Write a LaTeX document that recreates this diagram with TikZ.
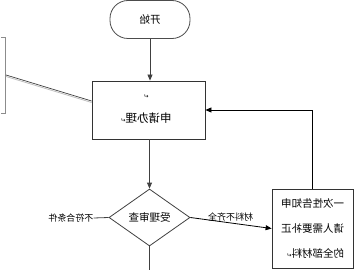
\documentclass[tikz,border=0pt]{standalone}
\usepackage{fontspec}
\usepackage{graphicx}
\setmainfont{Noto Sans CJK SC}
\newfontfamily\markfont{DejaVu Sans}
\usetikzlibrary{shapes.geometric,arrows.meta,positioning}
\newcommand{\pmark}{{\markfont\fontsize{6}{7}\selectfont ↵}}
\newcommand{\flip}[1]{\reflectbox{#1}}
\tikzset{
  flowline/.style={draw=black!75, line width=0.8pt},
  flowarrow/.style={flowline, -{Triangle[length=6pt,width=5pt]}},
  stepbox/.style={draw=black!80, line width=0.8pt, minimum width=113pt, minimum height=58pt, inner sep=0pt},
  termbox/.style={draw=black!70, line width=0.8pt, rounded corners=18pt, minimum width=80pt, minimum height=38pt, inner sep=0pt},
  checkbox/.style={diamond, draw=black!75, line width=0.8pt, minimum width=81pt, minimum height=57pt, inner sep=0pt},
  notebox/.style={draw=black!80, line width=0.8pt, minimum width=81pt, minimum height=79pt, inner sep=0pt},
  flowlabel/.style={inner sep=0pt, font=\fontsize{9}{10}\selectfont}
}
\begin{document}
\begin{tikzpicture}[x=1pt,y=-1pt]
\useasboundingbox (0,0) rectangle (354,270);
% start and main step
\node[termbox] (start) at (150,19.5) {\fontsize{10.5}{12}\selectfont\flip{开始}};
\node[stepbox] (apply) at (148.5,110) {};
\node (blank) at (146,97) {\flip{\pmark}};
\node (applytext) at (146,118) {\fontsize{11.5}{13}\selectfont\flip{申请办理\pmark}};
% check
\node[checkbox] (check) at (149.5,217.5) {\fontsize{10.5}{12}\selectfont\flip{受理审查}};
\node[notebox] (fix) at (312.5,228.5) {\fontsize{10.5}{21}\selectfont\flip{\begin{tabular}{@{}l@{}}一次性告知申\\[4pt]请人需要补正\\[4pt]的全部材料\pmark\end{tabular}}};
\node[flowlabel] (reject) at (71,218) {\flip{不符合条件}};
\coordinate (out) at (149.5,270);
% comment bracket
\draw[black!45, line width=0.7pt] (1,37) -- (5,37) -- (5,113) -- (1,113);
\coordinate (note) at (6,75);
\draw[black!25, line width=0.8pt] ([yshift=-1.5pt]note) -- ([yshift=7.5pt]apply.west);
\draw[black!75, line width=0.7pt] (note) -- ([yshift=9pt]apply.west);
% connectors
\draw[flowarrow] (start) -- (start |- apply.north);
\draw[flowarrow] (apply.south -| check.north) -- (check.north);
\draw[black!75, line width=1.8pt] (check.south) -- (out);
\draw[flowline] (check.west) -- (reject.east);
\draw[flowarrow, draw=black] (check.east) -- (fix.west);
\node[flowlabel] (missing) at (230.5,217.5) {\flip{材料不齐全}};
\draw[draw=black, line width=0.8pt, -{Triangle[length=6pt,width=5pt]}] (fix.north) |- (apply.east);
\end{tikzpicture}
\end{document}
